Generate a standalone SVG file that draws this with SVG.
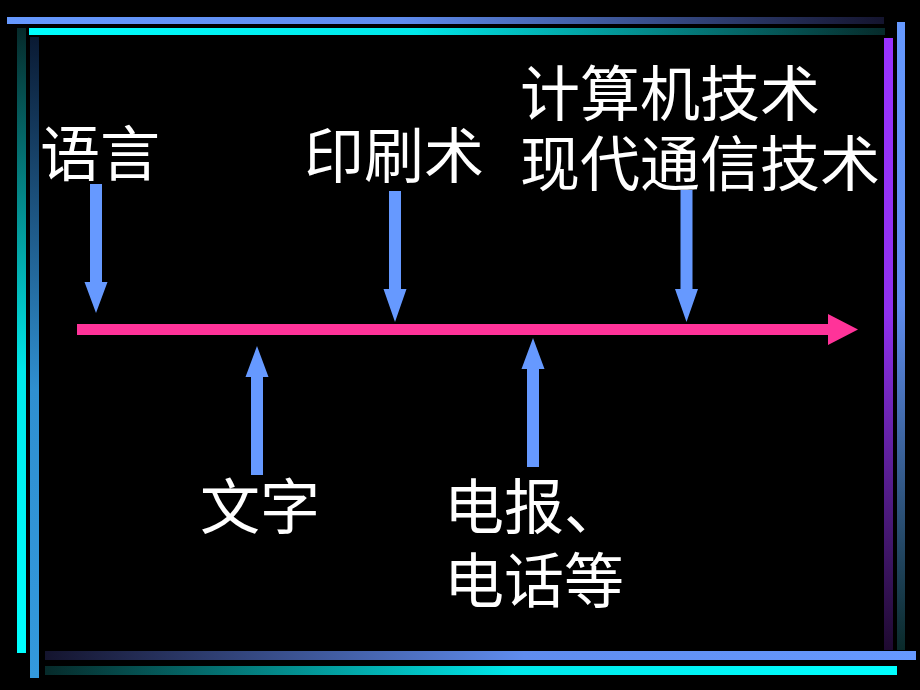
<svg xmlns="http://www.w3.org/2000/svg" width="920" height="690" viewBox="0 0 920 690">
  <defs>
    <linearGradient id="gTopOuter" x1="0" y1="0" x2="1" y2="0">
      <stop offset="0" stop-color="#6699FF"/>
      <stop offset="0.45" stop-color="#5f8cee"/>
      <stop offset="1" stop-color="#14142e"/>
    </linearGradient>
    <linearGradient id="gTopInner" x1="0" y1="0" x2="1" y2="0">
      <stop offset="0" stop-color="#00FFFF"/>
      <stop offset="0.45" stop-color="#00e8ea"/>
      <stop offset="1" stop-color="#062a2a"/>
    </linearGradient>
    <linearGradient id="gLeftOuter" x1="0" y1="0" x2="0" y2="1">
      <stop offset="0" stop-color="#062a2a"/>
      <stop offset="0.55" stop-color="#00e8ea"/>
      <stop offset="1" stop-color="#00FFFF"/>
    </linearGradient>
    <linearGradient id="gLeftInner" x1="0" y1="0" x2="0" y2="1">
      <stop offset="0" stop-color="#0a1a33"/>
      <stop offset="0.55" stop-color="#2f8fd0"/>
      <stop offset="1" stop-color="#3399DD"/>
    </linearGradient>
    <linearGradient id="gBottomOuter" x1="0" y1="0" x2="1" y2="0">
      <stop offset="0" stop-color="#14142e"/>
      <stop offset="0.55" stop-color="#5f8cee"/>
      <stop offset="1" stop-color="#6699FF"/>
    </linearGradient>
    <linearGradient id="gBottomInner" x1="0" y1="0" x2="1" y2="0">
      <stop offset="0" stop-color="#062a2a"/>
      <stop offset="0.55" stop-color="#00e8ea"/>
      <stop offset="1" stop-color="#00FFFF"/>
    </linearGradient>
    <linearGradient id="gRightInner" x1="0" y1="0" x2="0" y2="1">
      <stop offset="0" stop-color="#9933FF"/>
      <stop offset="0.45" stop-color="#8f30ee"/>
      <stop offset="1" stop-color="#1e0a30"/>
    </linearGradient>
    <linearGradient id="gRightOuter" x1="0" y1="0" x2="0" y2="1">
      <stop offset="0" stop-color="#6699FF"/>
      <stop offset="0.45" stop-color="#5f8cee"/>
      <stop offset="1" stop-color="#0a2a2a"/>
    </linearGradient>
  </defs>
  <style>
    .lbl { font-family: "Liberation Serif", "Noto Sans CJK SC", serif; font-size: 60px; fill: #ffffff; }
    .arr { fill: #6699FF; }
    .timeline { fill: #FF3399; }
  </style>

  <rect x="0" y="0" width="920" height="690" fill="#000000"/>

  <g id="border">
    <rect x="7" y="17" width="877" height="7" fill="url(#gTopOuter)"/>
    <rect x="29" y="28" width="856" height="7" fill="url(#gTopInner)"/>
    <rect x="17" y="28" width="9" height="625" fill="url(#gLeftOuter)"/>
    <rect x="30" y="37" width="9" height="641" fill="url(#gLeftInner)"/>
    <rect x="45" y="651" width="871" height="9" fill="url(#gBottomOuter)"/>
    <rect x="45" y="666" width="852" height="9" fill="url(#gBottomInner)"/>
    <rect x="884" y="38" width="9" height="612" fill="url(#gRightInner)"/>
    <rect x="897" y="22" width="8" height="628" fill="url(#gRightOuter)"/>
  </g>

  <g id="connectors">
    <polygon class="timeline" points="77,324 828,324 828,314 858,329.5 828,345 828,335 77,335"/>
    <polygon class="arr" points="90,184 102,184 102,282 107.5,282 96,313 84.5,282 90,282"/>
    <polygon class="arr" points="389,191 401,191 401,289 406.5,289 395,322 383.5,289 389,289"/>
    <polygon class="arr" points="680.5,190 692.5,190 692.5,289 698,289 686.5,322 675,289 680.5,289"/>
    <polygon class="arr" points="251,475 263,475 263,377 268.5,377 257,346 245.5,377 251,377"/>
    <polygon class="arr" points="527,467 539,467 539,369 544.5,369 533,338 521.5,369 527,369"/>
  </g>

  <g id="node-yuyan">
    <text class="lbl" x="40" y="176">语言</text>
  </g>
  <g id="node-yinshuashu">
    <text class="lbl" x="304" y="178">印刷术</text>
  </g>
  <g id="node-jisuanji">
    <text class="lbl" x="520" y="116">计算机技术</text>
    <text class="lbl" x="520" y="186">现代通信技术</text>
  </g>
  <g id="node-wenzi">
    <text class="lbl" x="200" y="529">文字</text>
  </g>
  <g id="node-dianbao">
    <text class="lbl" x="444" y="529">电报、</text>
    <text class="lbl" x="444" y="603">电话等</text>
  </g>
</svg>
